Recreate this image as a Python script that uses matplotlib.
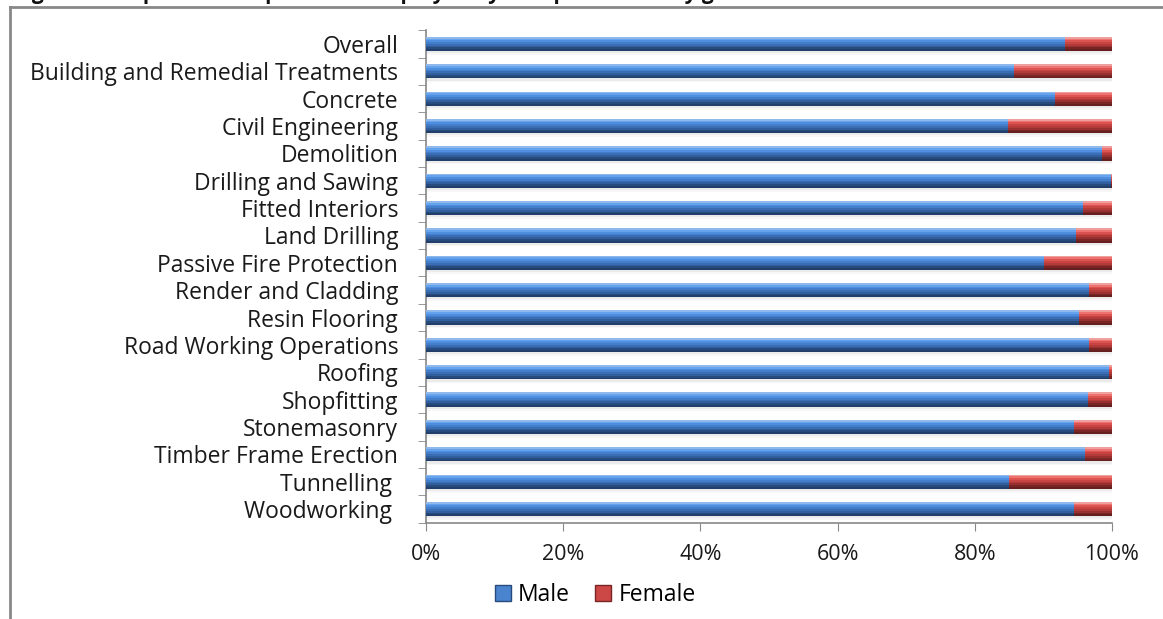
import numpy as np
import matplotlib.pyplot as plt
from matplotlib.lines import Line2D

plt.rcParams['font.family'] = ['Open Sans', 'DejaVu Sans']

categories = ["Overall", "Building and Remedial Treatments", "Concrete",
              "Civil Engineering", "Demolition", "Drilling and Sawing",
              "Fitted Interiors", "Land Drilling", "Passive Fire Protection",
              "Render and Cladding", "Resin Flooring", "Road Working Operations",
              "Roofing", "Shopfitting", "Stonemasonry", "Timber Frame Erection",
              "Tunnelling ", "Woodworking "]
male = [93.1, 85.7, 91.7, 84.9, 98.6, 99.8, 95.8, 94.7, 90.1,
        96.7, 95.2, 96.7, 99.6, 96.5, 94.5, 96.0, 85.0, 94.5]
female = [100 - m for m in male]
xticks = [0, 20, 40, 60, 80, 100]

# vertical colour profiles (top -> bottom) to fake the cylinder look
blue_profile = ["#8fb9ea", "#66a3ee", "#4f8ede", "#437ecb", "#3a6db4", "#315e9c", "#284b7e", "#213f6a"]
red_profile = ["#eea09e", "#ee7270", "#dc5452", "#c84442", "#b23a38", "#97302e", "#7a2525", "#661f1f"]

fig = plt.figure(figsize=(11.63, 6.19), dpi=100)
ax = fig.add_axes([0.3663, 0.1556, 0.5898, 0.7955])

y = np.arange(len(categories))
bar_h = 0.52


def cyl_bar(ax, ypos, widths, lefts, profile):
    n = len(profile)
    sub = bar_h / n
    for k, c in enumerate(profile):
        off = bar_h / 2 - sub * (k + 0.5)
        ax.barh(ypos - off, widths, left=lefts, height=sub * 1.02,
                color=c, linewidth=0, zorder=3)


# soft shadow under each bar
for s, a in [(0.10, 0.10), (0.16, 0.06)]:
    ax.barh(y + bar_h / 2 + s / 2 - 0.02, [100] * len(y), height=s,
            color="#808080", alpha=a, linewidth=0, zorder=2)

cyl_bar(ax, y, male, 0, blue_profile)
cyl_bar(ax, y, female, male, red_profile)

ax.set_xlim(0, 100)
ax.set_ylim(len(categories) - 0.5, -0.5)
ax.set_yticks(y)
ax.set_yticklabels(categories, fontsize=16.5, color="#1a1a1a")
ax.tick_params(axis='y', length=0, pad=20)
ax.set_yticks(np.arange(-0.5, len(categories), 1), minor=True)
ax.tick_params(axis='y', which='minor', length=6, color="#888888", direction='out')
ax.set_xticks(xticks)
ax.set_xticklabels([f"{t}%" for t in xticks], fontsize=15.5, color="#1a1a1a")
ax.tick_params(axis='x', length=6, color="#888888", pad=9)

for side in ["top", "right"]:
    ax.spines[side].set_visible(False)
for side in ["left", "bottom"]:
    ax.spines[side].set_color("#888888")
    ax.spines[side].set_linewidth(1.2)

handles = [plt.Rectangle((0, 0), 1, 1, facecolor="#4a84cf", edgecolor="#284b7e"),
           plt.Rectangle((0, 0), 1, 1, facecolor="#cc4846", edgecolor="#7a2525")]
fig.legend(handles, ["Male", "Female"], loc="center", bbox_to_anchor=(0.512, 0.039),
           ncol=2, frameon=False, fontsize=16.5, handlelength=0.7, handleheight=0.7,
           handletextpad=0.3, columnspacing=1.1)

# chart frame (top and left edges)
fig.add_artist(Line2D([10 / 1163, 1], [1 - 7 / 619, 1 - 7 / 619],
                      transform=fig.transFigure, color="#888888", lw=2))
fig.add_artist(Line2D([10 / 1163, 10 / 1163], [0, 1 - 7 / 619],
                      transform=fig.transFigure, color="#888888", lw=2))

# heading sitting above the frame
fig.text(0.012, 1 - 4 / 619, "Figure 4: Proportion of operatives employed by occupation and by gender",
         fontsize=15, fontweight='bold', va='bottom', ha='left', color="#111111")

fig.savefig("out.png", dpi=100)
